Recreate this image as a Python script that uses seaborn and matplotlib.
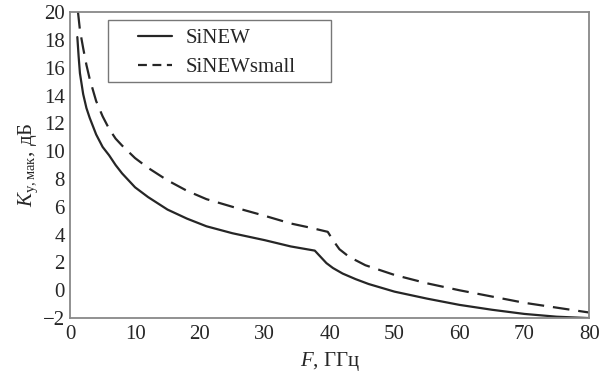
import matplotlib
matplotlib.use("Agg")
import matplotlib.pyplot as plt
from matplotlib.patches import Rectangle
import pandas as pd
import seaborn as sns

# SiNEW (solid)
f_sinew = [1.1, 1.3, 1.5, 2, 2.5, 3, 4, 5, 6, 7, 8, 10, 12, 15, 18, 21, 25,
           30, 34, 37.7, 38.5, 39.5, 40.5, 42, 44, 46, 50, 55, 60, 65, 70,
           75, 80]
k_sinew = [18.2, 16.8, 15.6, 14.1, 13.1, 12.4, 11.2, 10.3, 9.7, 9.0, 8.4,
           7.4, 6.7, 5.8, 5.15, 4.6, 4.1, 3.6, 3.15, 2.85, 2.45, 1.95, 1.6,
           1.2, 0.8, 0.45, -0.1, -0.6, -1.05, -1.4, -1.7, -1.9, -2.0]

# SiNEWsmall (dashed)
f_small = [1.2, 1.5, 2, 2.5, 3, 4, 5, 6, 7, 8, 10, 12, 15, 18, 21, 25, 30,
           34, 37, 39.7, 40.5, 41.5, 43, 45.5, 50, 55, 60, 65, 70, 75, 80]
k_small = [20.0, 18.7, 17.4, 16.2, 15.2, 13.6, 12.5, 11.6, 10.9, 10.4, 9.5,
           8.8, 7.9, 7.15, 6.55, 6.0, 5.35, 4.8, 4.5, 4.2, 3.6, 2.95, 2.4,
           1.8, 1.1, 0.5, 0.0, -0.45, -0.9, -1.25, -1.6]

x_ticks = [0, 10, 20, 30, 40, 50, 60, 70, 80]
y_ticks = [-2, 0, 2, 4, 6, 8, 10, 12, 14, 16, 18, 20]

df1 = pd.DataFrame({"F": f_sinew, "K": k_sinew})
df2 = pd.DataFrame({"F": f_small, "K": k_small})

sns.set_style("white")
plt.rcParams["font.family"] = ["Liberation Serif", "DejaVu Serif"]
plt.rcParams["mathtext.fontset"] = "custom"
plt.rcParams["mathtext.rm"] = "Liberation Serif"
plt.rcParams["mathtext.it"] = "Liberation Serif:italic"

fig, ax = plt.subplots(figsize=(6, 3.76), dpi=100)
fig.subplots_adjust(left=0.117, right=0.982, top=0.968, bottom=0.154)

line_col = "#262626"
sns.lineplot(data=df1, x="F", y="K", ax=ax, color=line_col, lw=1.6,
             label="SiNEW")
sns.lineplot(data=df2, x="F", y="K", ax=ax, color=line_col, lw=1.6,
             label="SiNEWsmall")
ax.lines[1].set_dashes([7.5, 4])

ax.set_xlim(0, 80)
ax.set_ylim(-2, 20)
ax.set_xticks(x_ticks)
ax.set_yticks(y_ticks)
ax.set_yticklabels(["\u22122" if v == -2 else str(v) for v in y_ticks])
ax.tick_params(direction="in", length=6, width=1.2, color="#555555",
               labelsize=15)
ax.tick_params(axis="x", pad=5)
ax.tick_params(axis="y", pad=4)

for s in ax.spines.values():
    s.set_color("#888888")
    s.set_linewidth(1.3)

ax.set_xlabel("$F$, ГГц", fontsize=15, labelpad=4)
ax.set_ylabel(r"$K_{\mathrm{у,мак}}$, дБ", fontsize=15, labelpad=2)

# legend without its own frame, with a wide box drawn behind it
leg = ax.legend(loc="upper left", bbox_to_anchor=(0.123, 0.96), fontsize=15,
                handlelength=1.6, frameon=False, borderpad=0.2,
                labelspacing=0.45, handletextpad=0.7, borderaxespad=0)
leg.get_lines()[1].set_dashes([4, 2.5])
ax.add_patch(Rectangle((0.073, 0.77), 0.43, 0.205, transform=ax.transAxes,
                       facecolor="white", edgecolor="#777777", lw=1.0,
                       zorder=4))
leg.set_zorder(5)

fig.savefig("out.png", dpi=100)
